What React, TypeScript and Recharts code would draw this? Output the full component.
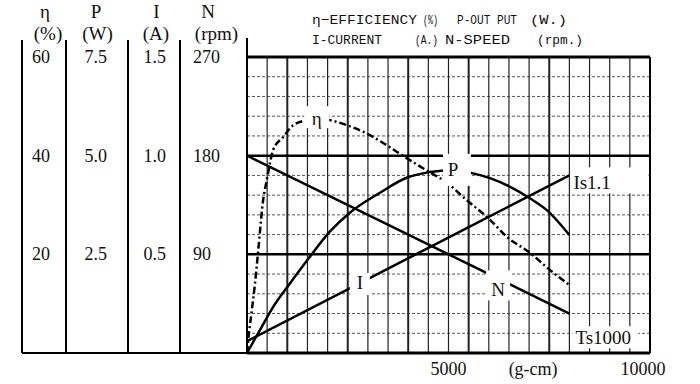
import React from "react";
import {
  LineChart,
  Line,
  XAxis,
  YAxis,
  ReferenceLine,
  ReferenceDot,
} from "recharts";

// torque in g-cm on x, each curve in its own unit
const ETA_X = [0, 30, 120, 200, 280, 400, 490, 570, 650, 900, 1150, 1480, 1750, 2060, 2470, 2970, 3470, 3960, 4460, 4960, 5450, 6030, 6440, 7020, 7520, 8000];
const ETA_Y = [0, 2.6, 8.7, 14.2, 20.9, 31, 35, 38.5, 41.2, 43.8, 46.2, 47.2, 47.6, 47.2, 46.2, 44.5, 42.1, 39.5, 37.0, 34.5, 31, 27, 23.6, 20.3, 16.8, 13.8];

const P_X = [0, 320, 650, 1070, 1560, 2060, 2560, 3300, 3960, 4460, 4870, 5110, 5530, 6030, 6530, 7020, 7440, 8000];
const P_Y = [0, 0.58, 1.17, 1.77, 2.44, 3.08, 3.56, 4.06, 4.44, 4.57, 4.62, 4.64, 4.57, 4.43, 4.21, 3.92, 3.62, 2.99];

const I_X = [0, 8000];
const I_Y = [0.06, 0.9];

const N_X = [0, 8000];
const N_Y = [180, 36];

const X_TICKS = [5000, 10000];
const ETA_TICKS = [20, 40, 60];
const P_TICKS = [2.5, 5, 7.5];
const I_TICKS = [0.5, 1, 1.5];
const N_TICKS = [90, 180, 270];

// grid: 500 g-cm steps across, 4 % steps up
const GRID_X = Array.from({ length: 19 }, (_, i) => (i + 1) * 500);
const BOLD_X = [1000, 2500, 4000, 5500, 7500];
const GRID_ETA = Array.from({ length: 14 }, (_, i) => (i + 1) * 4);
const BOLD_ETA = [20, 40];

const etaData = ETA_X.map((x, i) => ({ x, eta: ETA_Y[i] }));
const pData = P_X.map((x, i) => ({ x, p: P_Y[i] }));
const iData = I_X.map((x, i) => ({ x, cur: I_Y[i] }));
const nData = N_X.map((x, i) => ({ x, n: N_Y[i] }));

// axis ids sort innermost first: N next to the plot, η at the far left
const AX_N = "a_n";
const AX_I = "b_i";
const AX_P = "c_p";
const AX_ETA = "d_eta";

const SERIF = '"Liberation Serif", "Times New Roman", serif';
const MONO = '"Liberation Mono", "Courier New", monospace';

// title pieces: [text, x, width]
const TITLE_1: [string, number, number][] = [
  ["η−EFFICIENCY", 312, 105],
  ["(%)", 423, 15],
  ["P-OUT PUT", 457, 60],
  ["(W.)", 530, 37],
];
const TITLE_2: [string, number, number][] = [
  ["I-CURRENT", 312, 70],
  ["(A.)", 415, 23],
  ["N-SPEED", 445, 65],
  ["(rpm.)", 537, 46],
];

function ColTick(props: any) {
  const { x, y, payload, colWidth, pad, digits } = props;
  return (
    <text
      x={x - colWidth + pad}
      y={y}
      dominantBaseline="central"
      fontFamily={SERIF}
      fontSize={18}
      fill="#111"
    >
      {Number(payload.value).toFixed(digits)}
    </text>
  );
}

function ColHead(props: any) {
  const { viewBox, name, unit, nameDx, unitDx, last } = props;
  if (!viewBox) return null;
  const { x, y, width, height } = viewBox;
  const bottom = y + height;
  return (
    <g>
      <text x={x + nameDx} y={y - 39} textAnchor="middle" fontFamily={SERIF} fontSize={19} fill="#111">
        {name}
      </text>
      <text x={x + unitDx} y={y - 17.5} textAnchor="middle" fontFamily={SERIF} fontSize={19} fill="#111">
        {unit}
      </text>
      <line x1={x} x2={x} y1={y - 17} y2={bottom} stroke="#000" strokeWidth={2} />
      {last && (
        <line x1={x + width} x2={x + width} y1={y - 19} y2={y} stroke="#000" strokeWidth={2} />
      )}
      <line x1={x} x2={x + width} y1={bottom} y2={bottom} stroke="#000" strokeWidth={2} />
    </g>
  );
}

function XTick(props: any) {
  const { x, y, payload, index, visibleTicksCount } = props;
  const last = index === visibleTicksCount - 1;
  return (
    <text
      x={x}
      y={y + 22}
      dx={last ? -7 : 0}
      textAnchor="middle"
      fontFamily={SERIF}
      fontSize={18}
      fill="#111"
    >
      {payload.value}
    </text>
  );
}

function XUnit(props: any) {
  const { viewBox } = props;
  if (!viewBox) return null;
  return (
    <text
      x={viewBox.x + viewBox.width * 0.71}
      y={viewBox.y + 22}
      textAnchor="middle"
      fontFamily={SERIF}
      fontSize={18}
      fill="#111"
    >
      (g-cm)
    </text>
  );
}

function BoxLabel(props: any) {
  const { cx, cy, text, anchor = "middle", tx = 0, ty = 0, bx, by, bw, bh } = props;
  return (
    <g>
      <rect x={cx + bx} y={cy + by} width={bw} height={bh} fill="#fff" />
      <text
        x={cx + tx}
        y={cy + ty}
        textAnchor={anchor}
        dominantBaseline="central"
        fontFamily={SERIF}
        fontSize={19}
        fill="#111"
      >
        {text}
      </text>
    </g>
  );
}

export default function App() {
  return (
    <div style={{ position: "absolute", left: 0, top: 0, width: 700, height: 384, background: "#fff" }}>
      <LineChart width={700} height={384} margin={{ top: 57, right: 50, bottom: 0, left: 22 }}>
        <XAxis
          dataKey="x"
          type="number"
          domain={[0, 10000]}
          ticks={X_TICKS}
          interval={0}
          height={31}
          axisLine={false}
          tickLine={false}
          tickSize={0}
          tickMargin={0}
          tick={<XTick />}
          label={<XUnit />}
        />
        <YAxis
          yAxisId={AX_N}
          type="number"
          domain={[0, 270]}
          ticks={N_TICKS}
          interval={0}
          width={67}
          axisLine={false}
          tickLine={false}
          tickSize={0}
          tickMargin={0}
          tick={<ColTick colWidth={67} pad={13} digits={0} />}
          label={<ColHead name="N" unit="(rpm)" nameDx={28} unitDx={36.5} last />}
        />
        <YAxis
          yAxisId={AX_I}
          type="number"
          domain={[0, 1.5]}
          ticks={I_TICKS}
          interval={0}
          width={52}
          axisLine={false}
          tickLine={false}
          tickSize={0}
          tickMargin={0}
          tick={<ColTick colWidth={52} pad={15.5} digits={1} />}
          label={<ColHead name="I" unit="(A)" nameDx={28.5} unitDx={28} />}
        />
        <YAxis
          yAxisId={AX_P}
          type="number"
          domain={[0, 7.5]}
          ticks={P_TICKS}
          interval={0}
          width={62}
          axisLine={false}
          tickLine={false}
          tickSize={0}
          tickMargin={0}
          tick={<ColTick colWidth={62} pad={18.5} digits={1} />}
          label={<ColHead name="P" unit="(W)" nameDx={30} unitDx={31.5} />}
        />
        <YAxis
          yAxisId={AX_ETA}
          type="number"
          domain={[0, 60]}
          ticks={ETA_TICKS}
          interval={0}
          width={44}
          axisLine={false}
          tickLine={false}
          tickSize={0}
          tickMargin={0}
          tick={<ColTick colWidth={44} pad={10} digits={0} />}
          label={<ColHead name="η" unit="(%)" nameDx={23} unitDx={26} />}
        />

        {GRID_ETA.map((v) =>
          BOLD_ETA.includes(v) ? null : (
            <ReferenceLine key={"h" + v} yAxisId={AX_ETA} y={v} stroke="#555" strokeWidth={1} strokeDasharray="3 2" />
          )
        )}
        {GRID_X.map((v) => (
          <ReferenceLine
            key={"v" + v}
            yAxisId={AX_ETA}
            x={v}
            stroke="#222"
            strokeWidth={BOLD_X.includes(v) ? 2 : 1.2}
          />
        ))}
        {BOLD_ETA.map((v) => (
          <ReferenceLine key={"b" + v} yAxisId={AX_ETA} y={v} stroke="#000" strokeWidth={2.5} />
        ))}
        <ReferenceLine yAxisId={AX_ETA} x={0} stroke="#000" strokeWidth={2} />
        <ReferenceLine yAxisId={AX_ETA} x={10000} stroke="#000" strokeWidth={2} />
        <ReferenceLine yAxisId={AX_ETA} y={0} stroke="#000" strokeWidth={3} />
        <ReferenceLine yAxisId={AX_ETA} y={60} stroke="#000" strokeWidth={3} />

        <Line
          data={etaData}
          yAxisId={AX_ETA}
          dataKey="eta"
          type="monotone"
          stroke="#000"
          strokeWidth={2.5}
          strokeDasharray="7 3 2 3"
          dot={false}
          isAnimationActive={false}
        />
        <Line data={pData} yAxisId={AX_P} dataKey="p" type="monotone" stroke="#000" strokeWidth={2.5} dot={false} isAnimationActive={false} />
        <Line data={iData} yAxisId={AX_I} dataKey="cur" type="linear" stroke="#000" strokeWidth={2.5} dot={false} isAnimationActive={false} />
        <Line data={nData} yAxisId={AX_N} dataKey="n" type="linear" stroke="#000" strokeWidth={2.5} dot={false} isAnimationActive={false} />

        <ReferenceDot yAxisId={AX_ETA} x={1730} y={47.6} shape={(p: any) => <BoxLabel cx={p.cx} cy={p.cy} text="η" bx={-12.5} by={-12} bw={25} bh={22} />} />
        <ReferenceDot yAxisId={AX_P} x={5110} y={4.64} shape={(p: any) => <BoxLabel cx={p.cx} cy={p.cy} text="P" bx={-10} by={-16} bw={28} bh={32} />} />
        <ReferenceDot yAxisId={AX_I} x={2800} y={0.355} shape={(p: any) => <BoxLabel cx={p.cx} cy={p.cy} text="I" bx={-10} by={-10} bw={20} bh={22} />} />
        <ReferenceDot yAxisId={AX_N} x={6230} y={58} shape={(p: any) => <BoxLabel cx={p.cx} cy={p.cy} text="N" bx={-12} by={-19} bw={24} bh={30} />} />
        <ReferenceDot yAxisId={AX_I} x={8000} y={0.9} shape={(p: any) => <BoxLabel cx={p.cx} cy={p.cy} text="Is1.1" anchor="start" tx={4} ty={7} bx={2} by={-8} bw={77} bh={26} />} />
        <ReferenceDot yAxisId={AX_ETA} x={8000} y={3.2} shape={(p: any) => <BoxLabel cx={p.cx} cy={p.cy} text="Ts1000" anchor="start" tx={6} ty={0} bx={3} by={-11} bw={66} bh={22} />} />
      </LineChart>
      <svg width={700} height={50} style={{ position: "absolute", left: 0, top: 0, pointerEvents: "none" }}>
        {TITLE_1.map(([t, x, w]) => (
          <text key={t} x={x} y={24} textLength={w} lengthAdjust="spacingAndGlyphs" fontFamily={MONO} fontSize={13} fill="#111">
            {t}
          </text>
        ))}
        {TITLE_2.map(([t, x, w]) => (
          <text key={t} x={x} y={43.5} textLength={w} lengthAdjust="spacingAndGlyphs" fontFamily={MONO} fontSize={13} fill="#111">
            {t}
          </text>
        ))}
      </svg>
    </div>
  );
}
